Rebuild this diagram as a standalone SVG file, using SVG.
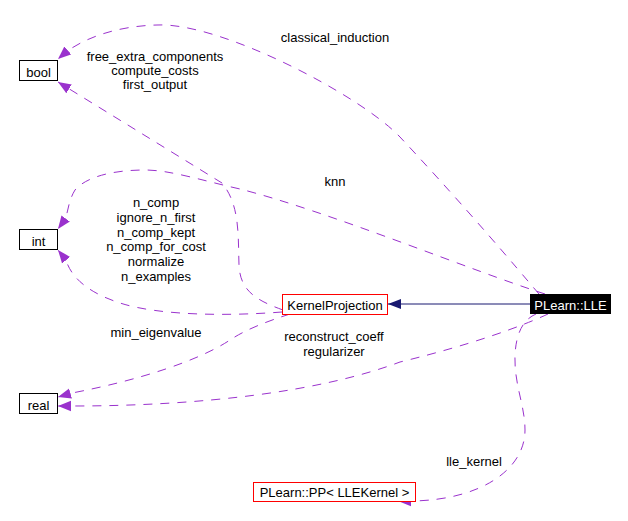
<svg xmlns="http://www.w3.org/2000/svg" width="628" height="521" viewBox="0 0 628 521">
<style>
  text { font-family: "Liberation Sans", Arial, sans-serif; font-size: 13px; fill: #000; text-anchor: middle; }
  .box { fill: #fff; stroke: #000; stroke-width: 1; }
  .redbox { fill: #fff; stroke: #ff0000; stroke-width: 1; }
  .dep { fill: none; stroke: #9a32cd; stroke-width: 1; stroke-dasharray: 9,8; }
  .inh { fill: none; stroke: #191970; stroke-width: 1; }
</style>
<defs>
  <marker id="ap" markerUnits="userSpaceOnUse" markerWidth="14" markerHeight="12" refX="13" refY="6" orient="auto">
    <path d="M0,0.8 L13,6 L0,11.2 z" fill="#9a32cd"/>
  </marker>
  <marker id="an" markerUnits="userSpaceOnUse" markerWidth="14" markerHeight="12" refX="13" refY="6" orient="auto">
    <path d="M0,1 L13,6 L0,11 z" fill="#191970"/>
  </marker>
</defs>
<rect width="628" height="521" fill="#fff"/>
<g id="connectors">
  <path class="inh" d="M530,304 L388,304" marker-end="url(#an)"/>
  <path class="dep" d="M539,294 C515,266 470,212 400,137 C360,95 220,22 157,25 C120,26 88,36 66,52 L58,59" marker-end="url(#ap)"/>
  <path class="dep" d="M283,310 C255,300 240,290 239,265 C238,235 240,205 222,183 L58,82" marker-end="url(#ap)"/>
  <path class="dep" d="M545,294 C470,270 330,212 240,189 C200,180 170,170 145,170 C110,170 85,178 75,190 C70,198 68,208 66,218 L58,229" marker-end="url(#ap)"/>
  <path class="dep" d="M282,312 C230,316 160,316 120,303 C92,294 72,280 66,260 L58,250" marker-end="url(#ap)"/>
  <path class="dep" d="M290,314 C265,322 245,330 230,340 C200,360 140,380 72,393 L58,397" marker-end="url(#ap)"/>
  <path class="dep" d="M548,314 C520,327 470,345 400,362 C320,392 200,406 72,406 L58,406" marker-end="url(#ap)"/>
  <path class="dep" d="M536,314 C522,320 516,335 515,355 C514,385 525,405 525,430 C525,470 480,500 412,501 L398,501" marker-end="url(#ap)"/>
  <text x="335" y="42">classical_induction</text>
  <text x="155" y="61">free_extra_components</text>
  <text x="155" y="75">compute_costs</text>
  <text x="155" y="89">first_output</text>
  <text x="335" y="186">knn</text>
  <text x="156" y="207.3">n_comp</text>
  <text x="156" y="222">ignore_n_first</text>
  <text x="156" y="236.7">n_comp_kept</text>
  <text x="156" y="251.4">n_comp_for_cost</text>
  <text x="156" y="266.1">normalize</text>
  <text x="156" y="280.8">n_examples</text>
  <text x="156" y="337.3">min_eigenvalue</text>
  <text x="334" y="341.2">reconstruct_coeff</text>
  <text x="334" y="356">regularizer</text>
  <text x="474" y="466.2">lle_kernel</text>
</g>
<g id="bool">
  <rect class="box" x="19.5" y="60.5" width="38" height="20"/>
  <text x="38.5" y="76.5">bool</text>
</g>
<g id="int">
  <rect class="box" x="19.5" y="229.5" width="38" height="20"/>
  <text x="38.5" y="245.5">int</text>
</g>
<g id="real">
  <rect class="box" x="19.5" y="393.5" width="38" height="20"/>
  <text x="38.5" y="409.5">real</text>
</g>
<g id="KernelProjection">
  <rect class="redbox" x="282.5" y="294.5" width="105" height="20"/>
  <text x="335" y="310">KernelProjection</text>
</g>
<g id="LLE">
  <rect x="530" y="294" width="81" height="20" fill="#000"/>
  <text x="570.5" y="310" style="fill:#fff">PLearn::LLE</text>
</g>
<g id="PP_LLEKernel">
  <rect class="redbox" x="253.5" y="482.5" width="162" height="19"/>
  <text x="334.5" y="497">PLearn::PP&lt; LLEKernel &gt;</text>
</g>
</svg>
